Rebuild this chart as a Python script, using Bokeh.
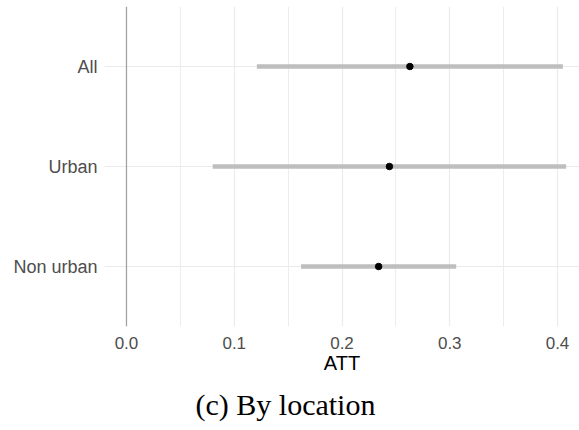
from bokeh.plotting import figure
from bokeh.models import FactorRange, Range1d, FixedTicker, Span, Title, ColumnDataSource
from bokeh.embed import file_html
from bokeh.resources import INLINE

# Average treatment effect on the treated, by location, with confidence intervals
groups = ["All", "Urban", "Non urban"]
att = [0.263, 0.244, 0.234]
ci_low = [0.121, 0.080, 0.162]
ci_high = [0.405, 0.408, 0.306]

x_ticks = [0.0, 0.1, 0.2, 0.3, 0.4]
x_minor = [0.05, 0.15, 0.25, 0.35]

src = ColumnDataSource(data=dict(group=groups, att=att, lo=ci_low, hi=ci_high))

p = figure(
    width=579, height=430,
    y_range=FactorRange(factors=list(reversed(groups)), range_padding=0.1,
                        range_padding_units="absolute"),
    x_range=Range1d(-0.0204, 0.4204),
    output_backend="svg", toolbar_location=None,
    min_border_left=104, min_border_right=0, min_border_top=6, min_border_bottom=102,
)
p.outline_line_color = None
p.background_fill_color = "white"
p.border_fill_color = "white"

# grid
p.xaxis.ticker = FixedTicker(ticks=x_ticks, minor_ticks=x_minor)
p.xgrid.grid_line_color = "#EBEBEB"
p.xgrid.grid_line_width = 1.2
p.xgrid.minor_grid_line_color = "#EBEBEB"
p.xgrid.minor_grid_line_width = 0.9
p.ygrid.grid_line_color = "#EBEBEB"
p.ygrid.grid_line_width = 1.2

# reference line at zero
p.add_layout(Span(location=0, dimension="height", line_color="#A0A0A0", line_width=1.2))

# intervals and point estimates
p.segment(x0="lo", y0="group", x1="hi", y1="group", source=src,
          line_color="#BEBEBE", line_width=4.5)
p.scatter(x="att", y="group", source=src, size=6.5, color="black")

# axes
for ax in (p.xaxis, p.yaxis):
    ax.axis_line_color = None
    ax.major_tick_line_color = None
    ax.minor_tick_line_color = None
    ax.major_tick_out = 0
    ax.major_tick_in = 0
    ax.major_label_text_color = "#4D4D4D"
    ax.major_label_text_font = "Liberation Sans"

p.yaxis.major_label_text_font_size = "18px"
p.yaxis.major_label_standoff = 7
p.xaxis.major_label_text_font_size = "17px"
p.xaxis.major_label_standoff = 6
p.xaxis.major_label_overrides = {t: f"{t:.1f}" for t in x_ticks}
p.xaxis.axis_label = "ATT"
p.xaxis.axis_label_text_font = "Liberation Sans"
p.xaxis.axis_label_text_font_style = "normal"
p.xaxis.axis_label_text_font_size = "20px"
p.xaxis.axis_label_text_color = "black"
p.xaxis.axis_label_standoff = 0

# caption below the axis, shifted left so it is centred on the page
caption = Title(text="(c) By location", align="left", text_font="Liberation Serif",
                text_font_size="30px", text_font_style="normal", text_color="black",
                offset=91, standoff=19)
p.add_layout(caption, "below")

open("out.html", "w").write(file_html(p, INLINE))
